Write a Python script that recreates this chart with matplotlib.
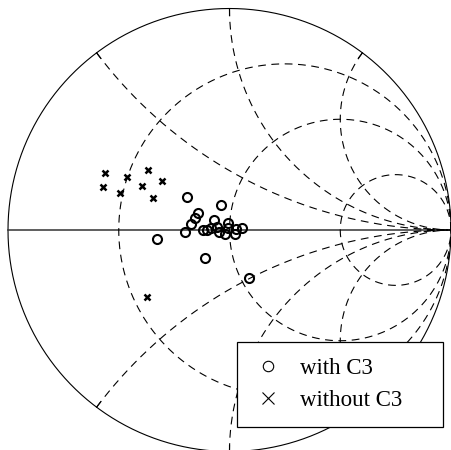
import numpy as np
import matplotlib
matplotlib.use("Agg")
import matplotlib.pyplot as plt
from matplotlib.lines import Line2D

with_c3_re = [-0.194, -0.037, -0.142, -0.157, -0.174, -0.200, -0.069, -0.008,
              -0.120, -0.102, -0.084, -0.057, -0.048, -0.019, -0.005, 0.026,
              0.029, 0.058, -0.326, -0.112, 0.090]
with_c3_im = [0.148, 0.114, 0.075, 0.052, 0.025, -0.007, 0.044, 0.032,
              0.000, 0.002, 0.007, 0.014, -0.009, -0.017, 0.009, -0.020,
              0.003, 0.010, -0.042, -0.126, -0.216]

without_c3_re = [-0.562, -0.465, -0.370, -0.305, -0.571, -0.494, -0.394, -0.347, -0.371]
without_c3_im = [0.256, 0.238, 0.271, 0.221, 0.195, 0.166, 0.197, 0.143, -0.301]

# smith chart grid
resistances = [1 / 3, 1, 3]
reactances = [0.5, 1, 2, -0.5, -1, -2]

labels = ["with C3", "without C3"]

DASH = (0, (7, 5))

fig = plt.figure(figsize=(4.52, 4.50), dpi=100)
ax = fig.add_axes([0, 0, 1, 1])
R = 221.5  # unit circle radius in pixels
ax.set_xlim(-229.5 / R, 222.5 / R)
ax.set_ylim(-220 / R, 230 / R)
ax.axis("off")

t = np.linspace(0, 2 * np.pi, 721)
ax.plot(np.cos(t), np.sin(t), color="black", lw=0.8)
ax.plot([-1, 1], [0, 0], color="#333333", lw=1.1)

for r in resistances:
    c = r / (1 + r)
    rad = 1 / (1 + r)
    ax.plot(c + rad * np.cos(t), rad * np.sin(t), color="black", lw=0.8, ls=DASH)

r_sweep = np.concatenate(([0.0], np.logspace(-3, 4, 800)))
for x in reactances:
    z = r_sweep + 1j * x
    g = (z - 1) / (z + 1)
    ax.plot(g.real, g.imag, color="black", lw=0.8, ls=DASH)
    # short tick on the rim where the arc starts
    g0 = g[0]
    ax.plot([g0.real, g0.real * 0.97], [g0.imag, g0.imag * 0.97], color="black", lw=0.8)

ax.plot(with_c3_re, with_c3_im, ls="none", marker="o", ms=6.5, mfc="none",
        mec="black", mew=1.5)
ax.plot(without_c3_re, without_c3_im, ls="none", marker="x", ms=4.5,
        mec="black", mew=1.8)

handles = [
    Line2D([], [], ls="none", marker="o", ms=7.5, mfc="none", mec="black", mew=0.8),
    Line2D([], [], ls="none", marker="x", ms=8, mec="black", mew=0.8),
]
leg = ax.legend(handles, labels, loc="center left",
                bbox_to_anchor=(237 / 452, 22 / 450, 206 / 452, 87 / 450),
                bbox_transform=fig.transFigure, mode="expand", borderaxespad=0,
                prop={"family": "Liberation Serif", "size": 16.5},
                fancybox=False, framealpha=1, edgecolor="black",
                borderpad=0.7, labelspacing=0.45, handlelength=1.3,
                handletextpad=0.75)
leg.get_frame().set_linewidth(0.9)

fig.savefig("out.png", dpi=100)
